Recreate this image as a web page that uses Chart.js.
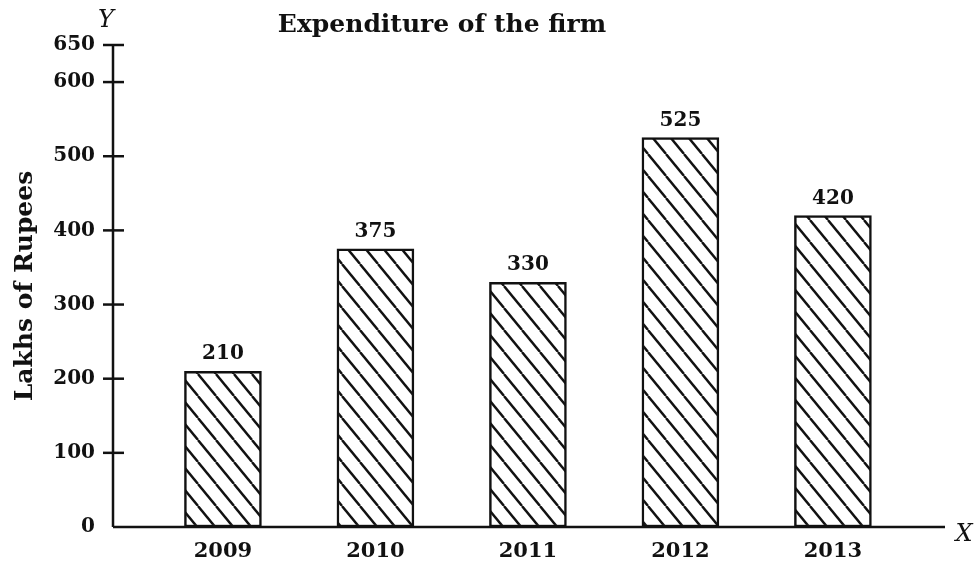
<!DOCTYPE html>
<html>
<head>
<meta charset="utf-8">
<script src="https://cdn.jsdelivr.net/npm/chart.js@4.4.1/dist/chart.umd.min.js"></script>
<style>
  html, body { margin: 0; padding: 0; background: #fff; }
  #wrap { width: 979px; height: 567px; }
</style>
</head>
<body>
<div id="wrap"><canvas id="expChart"></canvas></div>
<script>
// chart data
var years = [2009, 2010, 2011, 2012, 2013];
var expenditure = [210, 375, 330, 525, 420];
var yTicks = [0, 100, 200, 300, 400, 500, 600, 650];
var chartTitle = 'Expenditure of the firm';
var yTitle = 'Lakhs of Rupees';

var ink = '#111';
var serif = '"DejaVu Serif", "Liberation Serif", serif';

// hatch pattern for the bars (lines going down to the right)
function makeHatch() {
    var w = 18, h = 22;
    var c = document.createElement('canvas');
    c.width = w; c.height = h;
    var g = c.getContext('2d');
    g.fillStyle = '#fff';
    g.fillRect(0, 0, w, h);
    g.strokeStyle = ink;
    g.lineWidth = 2.4;
    for (var k = -1; k <= 1; k++) {
        g.beginPath();
        g.moveTo(k * w, 0);
        g.lineTo(k * w + w, h);
        g.stroke();
    }
    return g.createPattern(c, 'repeat');
}

// axes, tick marks, letters, title and value labels
var decorPlugin = {
    id: 'decor',
    afterDatasetsDraw: function (chart) {
        var ctx = chart.ctx;
        var area = chart.chartArea;
        var yScale = chart.scales.y;
        var y0 = yScale.getPixelForValue(0);
        ctx.save();
        ctx.strokeStyle = ink;
        ctx.lineWidth = 2.5;
        // y axis
        ctx.beginPath();
        ctx.moveTo(area.left, y0);
        ctx.lineTo(area.left, yScale.getPixelForValue(650));
        ctx.stroke();
        // x axis
        ctx.beginPath();
        ctx.moveTo(area.left, y0);
        ctx.lineTo(area.right, y0);
        ctx.stroke();
        // tick marks crossing the y axis
        yTicks.forEach(function (v) {
            if (v === 0) return;
            var py = yScale.getPixelForValue(v);
            ctx.beginPath();
            ctx.moveTo(area.left - 10, py);
            ctx.lineTo(area.left + 11, py);
            ctx.stroke();
        });
        // axis letters
        ctx.fillStyle = ink;
        ctx.font = 'italic 24px ' + serif;
        ctx.textAlign = 'center';
        ctx.textBaseline = 'middle';
        ctx.fillText('Y', area.left - 7, 21);
        ctx.fillText('X', area.right + 19, y0 + 8);
        // title
        ctx.font = 'bold 25px ' + serif;
        ctx.fillText(chartTitle, 442, 25);
        // value labels
        ctx.font = 'bold 20px ' + serif;
        ctx.textBaseline = 'bottom';
        var meta = chart.getDatasetMeta(0);
        meta.data.forEach(function (bar, i) {
            ctx.fillText(String(expenditure[i]), bar.x, bar.y - 7);
        });
        ctx.restore();
    }
};

var ctxExp = document.getElementById('expChart').getContext('2d');
var expChart = new Chart(ctxExp, {
    type: 'bar',
    data: {
        datasets: [{
            label: 'Expenditure',
            data: years.map(function (yr, i) { return { x: yr, y: expenditure[i] }; }),
            backgroundColor: makeHatch(),
            borderColor: ink,
            borderWidth: 2.5,
            borderSkipped: false,
            barThickness: 77
        }]
    },
    options: {
        responsive: true,
        maintainAspectRatio: false,
        animation: false,
        layout: { padding: { top: 45, right: 34, left: 0, bottom: 0 } },
        plugins: {
            legend: { display: false },
            tooltip: { enabled: false }
        },
        scales: {
            x: {
                type: 'linear',
                offset: false,
                min: 2008.279,
                max: 2013.735,
                grid: { display: false, offset: false },
                border: { display: false },
                afterBuildTicks: function (scale) {
                    scale.ticks = years.map(function (v) { return { value: v }; });
                },
                afterFit: function (scale) { scale.height = 40; },
                ticks: {
                    color: ink,
                    padding: 4,
                    maxRotation: 0,
                    font: { family: serif, size: 21, weight: 'bold' },
                    callback: function (v) { return String(v); }
                }
            },
            y: {
                min: 0,
                max: 650,
                grid: { display: false },
                border: { display: false },
                afterBuildTicks: function (scale) {
                    scale.ticks = yTicks.map(function (v) { return { value: v }; });
                },
                afterFit: function (scale) { scale.width = 113; },
                ticks: {
                    color: ink,
                    padding: 10,
                    font: { family: serif, size: 20, weight: 'bold' },
                    callback: function (v) { return String(v); }
                },
                title: {
                    display: true,
                    text: yTitle,
                    color: ink,
                    padding: { top: 10, bottom: 0 },
                    font: { family: serif, size: 25, weight: 'bold' }
                }
            }
        }
    },
    plugins: [decorPlugin]
});
</script>
</body>
</html>
